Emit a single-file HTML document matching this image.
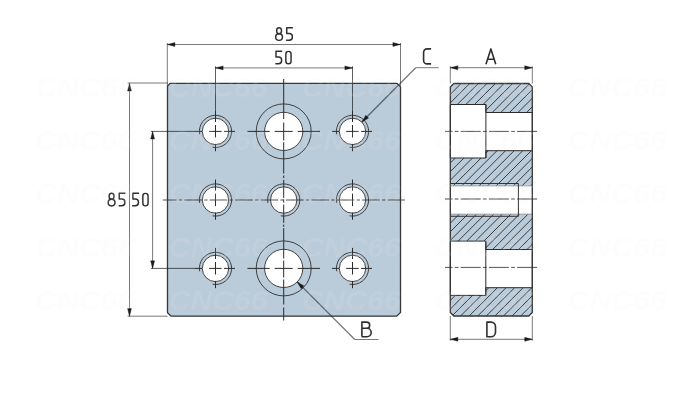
<!DOCTYPE html>
<html><head><meta charset="utf-8"><style>
html,body{margin:0;padding:0;background:#fff;width:700px;height:400px;overflow:hidden}
svg{display:block}
text{font-family:"Liberation Sans",sans-serif}
</style></head><body>
<svg width="700" height="400" viewBox="0 0 700 400">
<rect width="700" height="400" fill="#fff"/>
<path d="M170.1,83.4 H397 L400.5,86.9 V312.4 L396.7,316.2 H171 L167.5,312.7 V86 Z" fill="#bacbd9"/>
<circle cx="283.7" cy="131.4" r="27.5" fill="none" stroke="#303030" stroke-width="0.9"/>
<circle cx="283.7" cy="131.4" r="19.1" fill="#fff" stroke="#303030" stroke-width="0.9"/>
<circle cx="283.7" cy="268.4" r="27.5" fill="none" stroke="#303030" stroke-width="0.9"/>
<circle cx="283.7" cy="268.4" r="19.1" fill="#fff" stroke="#303030" stroke-width="0.9"/>
<path d="M199.66,134.31 A16.1,16.1 0 1 1 212.59,147.24" fill="none" stroke="#303030" stroke-width="0.9"/>
<circle cx="215.5" cy="131.4" r="13.2" fill="#fff" stroke="#303030" stroke-width="0.9"/>
<path d="M336.66,134.31 A16.1,16.1 0 1 1 349.59,147.24" fill="none" stroke="#303030" stroke-width="0.9"/>
<circle cx="352.5" cy="131.4" r="13.2" fill="#fff" stroke="#303030" stroke-width="0.9"/>
<path d="M199.66,202.91 A16.1,16.1 0 1 1 212.59,215.84" fill="none" stroke="#303030" stroke-width="0.9"/>
<circle cx="215.5" cy="200.0" r="13.2" fill="#fff" stroke="#303030" stroke-width="0.9"/>
<path d="M267.86,202.91 A16.1,16.1 0 1 1 280.79,215.84" fill="none" stroke="#303030" stroke-width="0.9"/>
<circle cx="283.7" cy="200.0" r="13.2" fill="#fff" stroke="#303030" stroke-width="0.9"/>
<path d="M336.66,202.91 A16.1,16.1 0 1 1 349.59,215.84" fill="none" stroke="#303030" stroke-width="0.9"/>
<circle cx="352.5" cy="200.0" r="13.2" fill="#fff" stroke="#303030" stroke-width="0.9"/>
<path d="M199.66,271.31 A16.1,16.1 0 1 1 212.59,284.24" fill="none" stroke="#303030" stroke-width="0.9"/>
<circle cx="215.5" cy="268.4" r="13.2" fill="#fff" stroke="#303030" stroke-width="0.9"/>
<path d="M336.66,271.31 A16.1,16.1 0 1 1 349.59,284.24" fill="none" stroke="#303030" stroke-width="0.9"/>
<circle cx="352.5" cy="268.4" r="13.2" fill="#fff" stroke="#303030" stroke-width="0.9"/>
<path d="M170.1,83.4 H397 L400.5,86.9 V312.4 L396.7,316.2 H171 L167.5,312.7 V86 Z" fill="none" stroke="#363636" stroke-width="1.3"/>
<path d="M215.5,66.3L215.5,110.9 M352.5,66.3L352.5,110.9 M151,131.4L195,131.4 M151,268.4L195,268.4" stroke="#1a1a1a" stroke-width="1.0" fill="none" stroke-opacity="0.7"/>
<path d="M247.4,131.4L269.7,131.4 M274.7,131.4L292.7,131.4 M297.7,131.4L320,131.4 M247.4,268.4L269.7,268.4 M274.7,268.4L292.7,268.4 M297.7,268.4L320,268.4 M195,131.4L202,131.4 M209.2,131.4L221.6,131.4 M224,131.4L235,131.4 M215.5,110.9L215.5,122 M215.5,125L215.5,137.5 M215.5,143.9L215.5,151.2 M332,131.4L339,131.4 M346.2,131.4L358.6,131.4 M361,131.4L372,131.4 M352.5,110.9L352.5,122 M352.5,125L352.5,137.5 M352.5,143.9L352.5,151.2 M215.5,179.5L215.5,190.6 M215.5,193.6L215.5,206.1 M215.5,212.5L215.5,219.8 M352.5,179.5L352.5,190.6 M352.5,193.6L352.5,206.1 M352.5,212.5L352.5,219.8 M195,268.4L202,268.4 M209.2,268.4L221.6,268.4 M224,268.4L235,268.4 M215.5,247.9L215.5,259 M215.5,262L215.5,274.5 M215.5,280.9L215.5,288.2 M332,268.4L339,268.4 M346.2,268.4L358.6,268.4 M361,268.4L372,268.4 M352.5,247.9L352.5,259 M352.5,262L352.5,274.5 M352.5,280.9L352.5,288.2 M283.7,79L283.7,119 M283.7,122.5L283.7,140.5 M283.7,142.2L283.7,173.6 M283.7,179.9L283.7,197.9 M283.7,204.6L283.7,222.9 M283.7,228.1L283.7,258.5 M283.7,260.5L283.7,277.5 M283.7,279.5L283.7,304.5 M283.7,307.5L283.7,320.5 M283.7,175.5L283.7,178.1 M283.7,199.3L283.7,202.6 M283.7,224.6L283.7,226.8" stroke="#2a2a2a" stroke-width="1.0" fill="none" />
<line x1="162.9" y1="200" x2="404.9" y2="200" stroke="#333" stroke-width="1.4" stroke-opacity="0.58" stroke-dasharray="17.6 2.2 3.4 2.2" stroke-dashoffset="3.9"/>
<path d="M167.3,43L167.3,85.5 M400.5,43L400.5,86 M167.3,44.5L400.5,44.5 M215.5,67.9L352.5,67.9 M127.6,83L167.8,83 M127.6,316.2L167.5,316.2 M129.5,83.4L129.5,316.2 M152.6,131.4L152.6,268.4" stroke="#1a1a1a" stroke-width="1.0" fill="none"  stroke-opacity="0.58"/>
<path d="M167.3,44.5 L174.9,42.55 L174.9,46.45 Z" fill="#1a1a1a" stroke="#1a1a1a" stroke-width="0.4" stroke-linejoin="miter"/>
<path d="M400.5,44.5 L392.9,46.45 L392.9,42.55 Z" fill="#1a1a1a" stroke="#1a1a1a" stroke-width="0.4" stroke-linejoin="miter"/>
<path d="M215.5,67.9 L223.1,65.95 L223.1,69.85 Z" fill="#1a1a1a" stroke="#1a1a1a" stroke-width="0.4" stroke-linejoin="miter"/>
<path d="M352.5,67.9 L344.9,69.85 L344.9,65.95 Z" fill="#1a1a1a" stroke="#1a1a1a" stroke-width="0.4" stroke-linejoin="miter"/>
<path d="M129.5,83.4 L131.45,91 L127.55,91 Z" fill="#1a1a1a" stroke="#1a1a1a" stroke-width="0.4" stroke-linejoin="miter"/>
<path d="M129.5,316.2 L127.55,308.6 L131.45,308.6 Z" fill="#1a1a1a" stroke="#1a1a1a" stroke-width="0.4" stroke-linejoin="miter"/>
<path d="M152.6,131.4 L154.55,139 L150.65,139 Z" fill="#1a1a1a" stroke="#1a1a1a" stroke-width="0.4" stroke-linejoin="miter"/>
<path d="M152.6,268.4 L150.65,260.8 L154.55,260.8 Z" fill="#1a1a1a" stroke="#1a1a1a" stroke-width="0.4" stroke-linejoin="miter"/>
<path d="M361.83,122.07L415.7,67.7" stroke="#1a1a1a" stroke-width="1.3" fill="none"  stroke-opacity="0.58"/>
<path d="M415.7,67.7L438.8,67.7" stroke="#1a1a1a" stroke-width="1.0" fill="none"  stroke-opacity="0.58"/>
<path d="M361.83,122.07 L365.83,115.31 L368.59,118.07 Z" fill="#1a1a1a" stroke="#1a1a1a" stroke-width="0.4" stroke-linejoin="miter"/>
<path d="M297.21,281.91L354.8,339.5" stroke="#1a1a1a" stroke-width="1.3" fill="none"  stroke-opacity="0.58"/>
<path d="M354.8,339.5L378.5,339.5" stroke="#1a1a1a" stroke-width="1.0" fill="none"  stroke-opacity="0.58"/>
<path d="M297.21,281.91 L303.96,285.9 L301.2,288.66 Z" fill="#1a1a1a" stroke="#1a1a1a" stroke-width="0.4" stroke-linejoin="miter"/>
<defs><clipPath id="body"><path d="M453.8,83.5 H528.8 L532.3,87 V312.5 L528.8,316 H453.8 L450.3,312.5 V87 Z"/></clipPath></defs>
<path d="M453.8,83.5 H528.8 L532.3,87 V312.5 L528.8,316 H453.8 L450.3,312.5 V87 Z" fill="#bacbd9"/>
<path d="M448.92,78.5L206.42,321M457.51,78.5L215.01,321M466.1,78.5L223.6,321M474.69,78.5L232.19,321M483.28,78.5L240.78,321M491.87,78.5L249.37,321M500.46,78.5L257.96,321M509.05,78.5L266.55,321M517.64,78.5L275.14,321M526.23,78.5L283.73,321M534.82,78.5L292.32,321M543.41,78.5L300.91,321M552,78.5L309.5,321M560.59,78.5L318.09,321M569.18,78.5L326.68,321M577.77,78.5L335.27,321M586.36,78.5L343.86,321M594.95,78.5L352.45,321M603.54,78.5L361.04,321M612.13,78.5L369.63,321M620.72,78.5L378.22,321M629.31,78.5L386.81,321M637.9,78.5L395.4,321M646.49,78.5L403.99,321M655.08,78.5L412.58,321M663.67,78.5L421.17,321M672.26,78.5L429.76,321M680.85,78.5L438.35,321M689.44,78.5L446.94,321M698.03,78.5L455.53,321M706.62,78.5L464.12,321M715.21,78.5L472.71,321M723.8,78.5L481.3,321M732.39,78.5L489.89,321M740.98,78.5L498.48,321M749.57,78.5L507.07,321M758.16,78.5L515.66,321M766.75,78.5L524.25,321M775.34,78.5L532.84,321" stroke="#2a2a2a" stroke-width="0.9" clip-path="url(#body)"/>
<path d="M450.3,104.5 H485.9 V112.5 H532.3 V150.7 H485.9 V158 H450.3 Z" fill="#fff" stroke="#2a2a2a" stroke-width="1"/>
<path d="M450.3,241.1 H485.8 V249.5 H532.3 V287.7 H485.8 V295.4 H450.3 Z" fill="#fff" stroke="#2a2a2a" stroke-width="1"/>
<rect x="450.3" y="185.9" width="81.99999999999994" height="28.2" fill="#fff" stroke="#8c8c8c" stroke-width="0.8"/>
<path d="M450.3,183.5 H518.4 V216.3 H450.3" fill="none" stroke="#333" stroke-width="1"/>
<path d="M485.9,104.5L485.9,158 M485.8,241.1L485.8,295.4" stroke="#2a2a2a" stroke-width="1.0" fill="none" />
<path d="M453.8,83.5 H528.8 L532.3,87 V312.5 L528.8,316 H453.8 L450.3,312.5 V87 Z" fill="none" stroke="#363636" stroke-width="1.3"/>
<line x1="445" y1="131.4" x2="537.1" y2="131.4" stroke="#2a2a2a" stroke-width="1.0" stroke-opacity="0.8" stroke-dasharray="20 2.2 3.8 2.2" stroke-dashoffset="12.5"/>
<line x1="445" y1="267.4" x2="537.1" y2="267.4" stroke="#2a2a2a" stroke-width="1.0" stroke-opacity="0.8" stroke-dasharray="20 2.2 3.8 2.2" stroke-dashoffset="12.5"/>
<line x1="445" y1="199" x2="537.1" y2="199" stroke="#333" stroke-width="1.6" stroke-opacity="0.6" stroke-dasharray="20 2.2 3.8 2.2" stroke-dashoffset="12.5"/>
<path d="M450.3,66.2L450.3,83.5 M532.3,66.2L532.3,83.5 M450.3,67.7L532.3,67.7 M450.3,316L450.3,340.7 M532.3,316L532.3,340.7 M450.3,339.3L532.3,339.3" stroke="#1a1a1a" stroke-width="1.0" fill="none"  stroke-opacity="0.58"/>
<path d="M450.3,67.7 L457.9,65.75 L457.9,69.65 Z" fill="#1a1a1a" stroke="#1a1a1a" stroke-width="0.4" stroke-linejoin="miter"/>
<path d="M532.3,67.7 L524.7,69.65 L524.7,65.75 Z" fill="#1a1a1a" stroke="#1a1a1a" stroke-width="0.4" stroke-linejoin="miter"/>
<path d="M450.3,339.3 L457.9,337.35 L457.9,341.25 Z" fill="#1a1a1a" stroke="#1a1a1a" stroke-width="0.4" stroke-linejoin="miter"/>
<path d="M532.3,339.3 L524.7,341.25 L524.7,337.35 Z" fill="#1a1a1a" stroke="#1a1a1a" stroke-width="0.4" stroke-linejoin="miter"/>
<g fill="none" stroke="#2e2e2e" stroke-width="1.45" stroke-linejoin="round">
<ellipse cx="279.07" cy="30.75" rx="2.45" ry="3.0"/><ellipse cx="279.07" cy="37.1" rx="3.42" ry="3.3"/>
<path d="M292.9,27.75 H286.75 V33.45 H289.2 A3.2,3.2 0 0 1 292.4,36.65 V37.05 A3.2,3.2 0 0 1 289.2,40.25 H286.1"/>
<path d="M282.15,51.25 H276 V56.95 H278.45 A3.2,3.2 0 0 1 281.65,60.15 V60.55 A3.2,3.2 0 0 1 278.45,63.75 H275.35"/>
<path d="M285.85,53.95 A2.6,2.6 0 0 1 291.05,53.95 V61.25 A2.6,2.6 0 0 1 285.85,61.25 Z"/>
<ellipse cx="111.57" cy="196.25" rx="2.45" ry="3.0"/><ellipse cx="111.57" cy="202.6" rx="3.42" ry="3.3"/>
<path d="M125.4,193.25 H119.25 V198.95 H121.7 A3.2,3.2 0 0 1 124.9,202.15 V202.55 A3.2,3.2 0 0 1 121.7,205.75 H118.6"/>
<path d="M139,193.25 H132.85 V198.95 H135.3 A3.2,3.2 0 0 1 138.5,202.15 V202.55 A3.2,3.2 0 0 1 135.3,205.75 H132.2"/>
<path d="M142.85,195.95 A2.6,2.6 0 0 1 148.05,195.95 V203.25 A2.6,2.6 0 0 1 142.85,203.25 Z"/>
</g>
<g fill="none" stroke="#2e2e2e" stroke-width="1.6" stroke-linejoin="round">
<path d="M431.1,48.9 H427.1 A3.5,3.5 0 0 0 423.6,52.4 V60.4 A3.5,3.5 0 0 0 427.1,63.9 H431.1"/>
<path d="M485.95,64.3 L490.9,48.9 L495.75,64.3 M487.6,59.2 H494.2"/>
<path d="M361.9,336.8 V322.1 H366.5 A3.2,3.1 0 0 1 369.7,325.2 A3.2,3.1 0 0 1 366.5,328.3 H361.9 M366.5,328.3 H367 A4.2,4.25 0 0 1 371.2,332.55 A4.2,4.25 0 0 1 367,336.8 H361.9"/>
<path d="M486.9,322.1 H491 A4.5,4.5 0 0 1 495.5,326.6 V332.3 A4.5,4.5 0 0 1 491,336.8 H486.9 Z"/>
</g>
<g font-family="Liberation Sans, sans-serif" font-size="28" font-weight="bold" font-style="italic" fill="#efefef" fill-opacity="0.12">
<text x="35.3" y="96.8" textLength="99" lengthAdjust="spacingAndGlyphs">CNC66</text>
<text x="35.3" y="150.1" textLength="99" lengthAdjust="spacingAndGlyphs">CNC66</text>
<text x="35.3" y="203.4" textLength="99" lengthAdjust="spacingAndGlyphs">CNC66</text>
<text x="35.3" y="256.7" textLength="99" lengthAdjust="spacingAndGlyphs">CNC66</text>
<text x="35.3" y="310" textLength="99" lengthAdjust="spacingAndGlyphs">CNC66</text>
<text x="168.4" y="96.8" textLength="99" lengthAdjust="spacingAndGlyphs">CNC66</text>
<text x="168.4" y="150.1" textLength="99" lengthAdjust="spacingAndGlyphs">CNC66</text>
<text x="168.4" y="203.4" textLength="99" lengthAdjust="spacingAndGlyphs">CNC66</text>
<text x="168.4" y="256.7" textLength="99" lengthAdjust="spacingAndGlyphs">CNC66</text>
<text x="168.4" y="310" textLength="99" lengthAdjust="spacingAndGlyphs">CNC66</text>
<text x="301.5" y="96.8" textLength="99" lengthAdjust="spacingAndGlyphs">CNC66</text>
<text x="301.5" y="150.1" textLength="99" lengthAdjust="spacingAndGlyphs">CNC66</text>
<text x="301.5" y="203.4" textLength="99" lengthAdjust="spacingAndGlyphs">CNC66</text>
<text x="301.5" y="256.7" textLength="99" lengthAdjust="spacingAndGlyphs">CNC66</text>
<text x="301.5" y="310" textLength="99" lengthAdjust="spacingAndGlyphs">CNC66</text>
<text x="434.6" y="96.8" textLength="99" lengthAdjust="spacingAndGlyphs">CNC66</text>
<text x="434.6" y="150.1" textLength="99" lengthAdjust="spacingAndGlyphs">CNC66</text>
<text x="434.6" y="203.4" textLength="99" lengthAdjust="spacingAndGlyphs">CNC66</text>
<text x="434.6" y="256.7" textLength="99" lengthAdjust="spacingAndGlyphs">CNC66</text>
<text x="434.6" y="310" textLength="99" lengthAdjust="spacingAndGlyphs">CNC66</text>
<text x="567.7" y="96.8" textLength="99" lengthAdjust="spacingAndGlyphs">CNC66</text>
<text x="567.7" y="150.1" textLength="99" lengthAdjust="spacingAndGlyphs">CNC66</text>
<text x="567.7" y="203.4" textLength="99" lengthAdjust="spacingAndGlyphs">CNC66</text>
<text x="567.7" y="256.7" textLength="99" lengthAdjust="spacingAndGlyphs">CNC66</text>
<text x="567.7" y="310" textLength="99" lengthAdjust="spacingAndGlyphs">CNC66</text>
</g>
</svg>
</body></html>
